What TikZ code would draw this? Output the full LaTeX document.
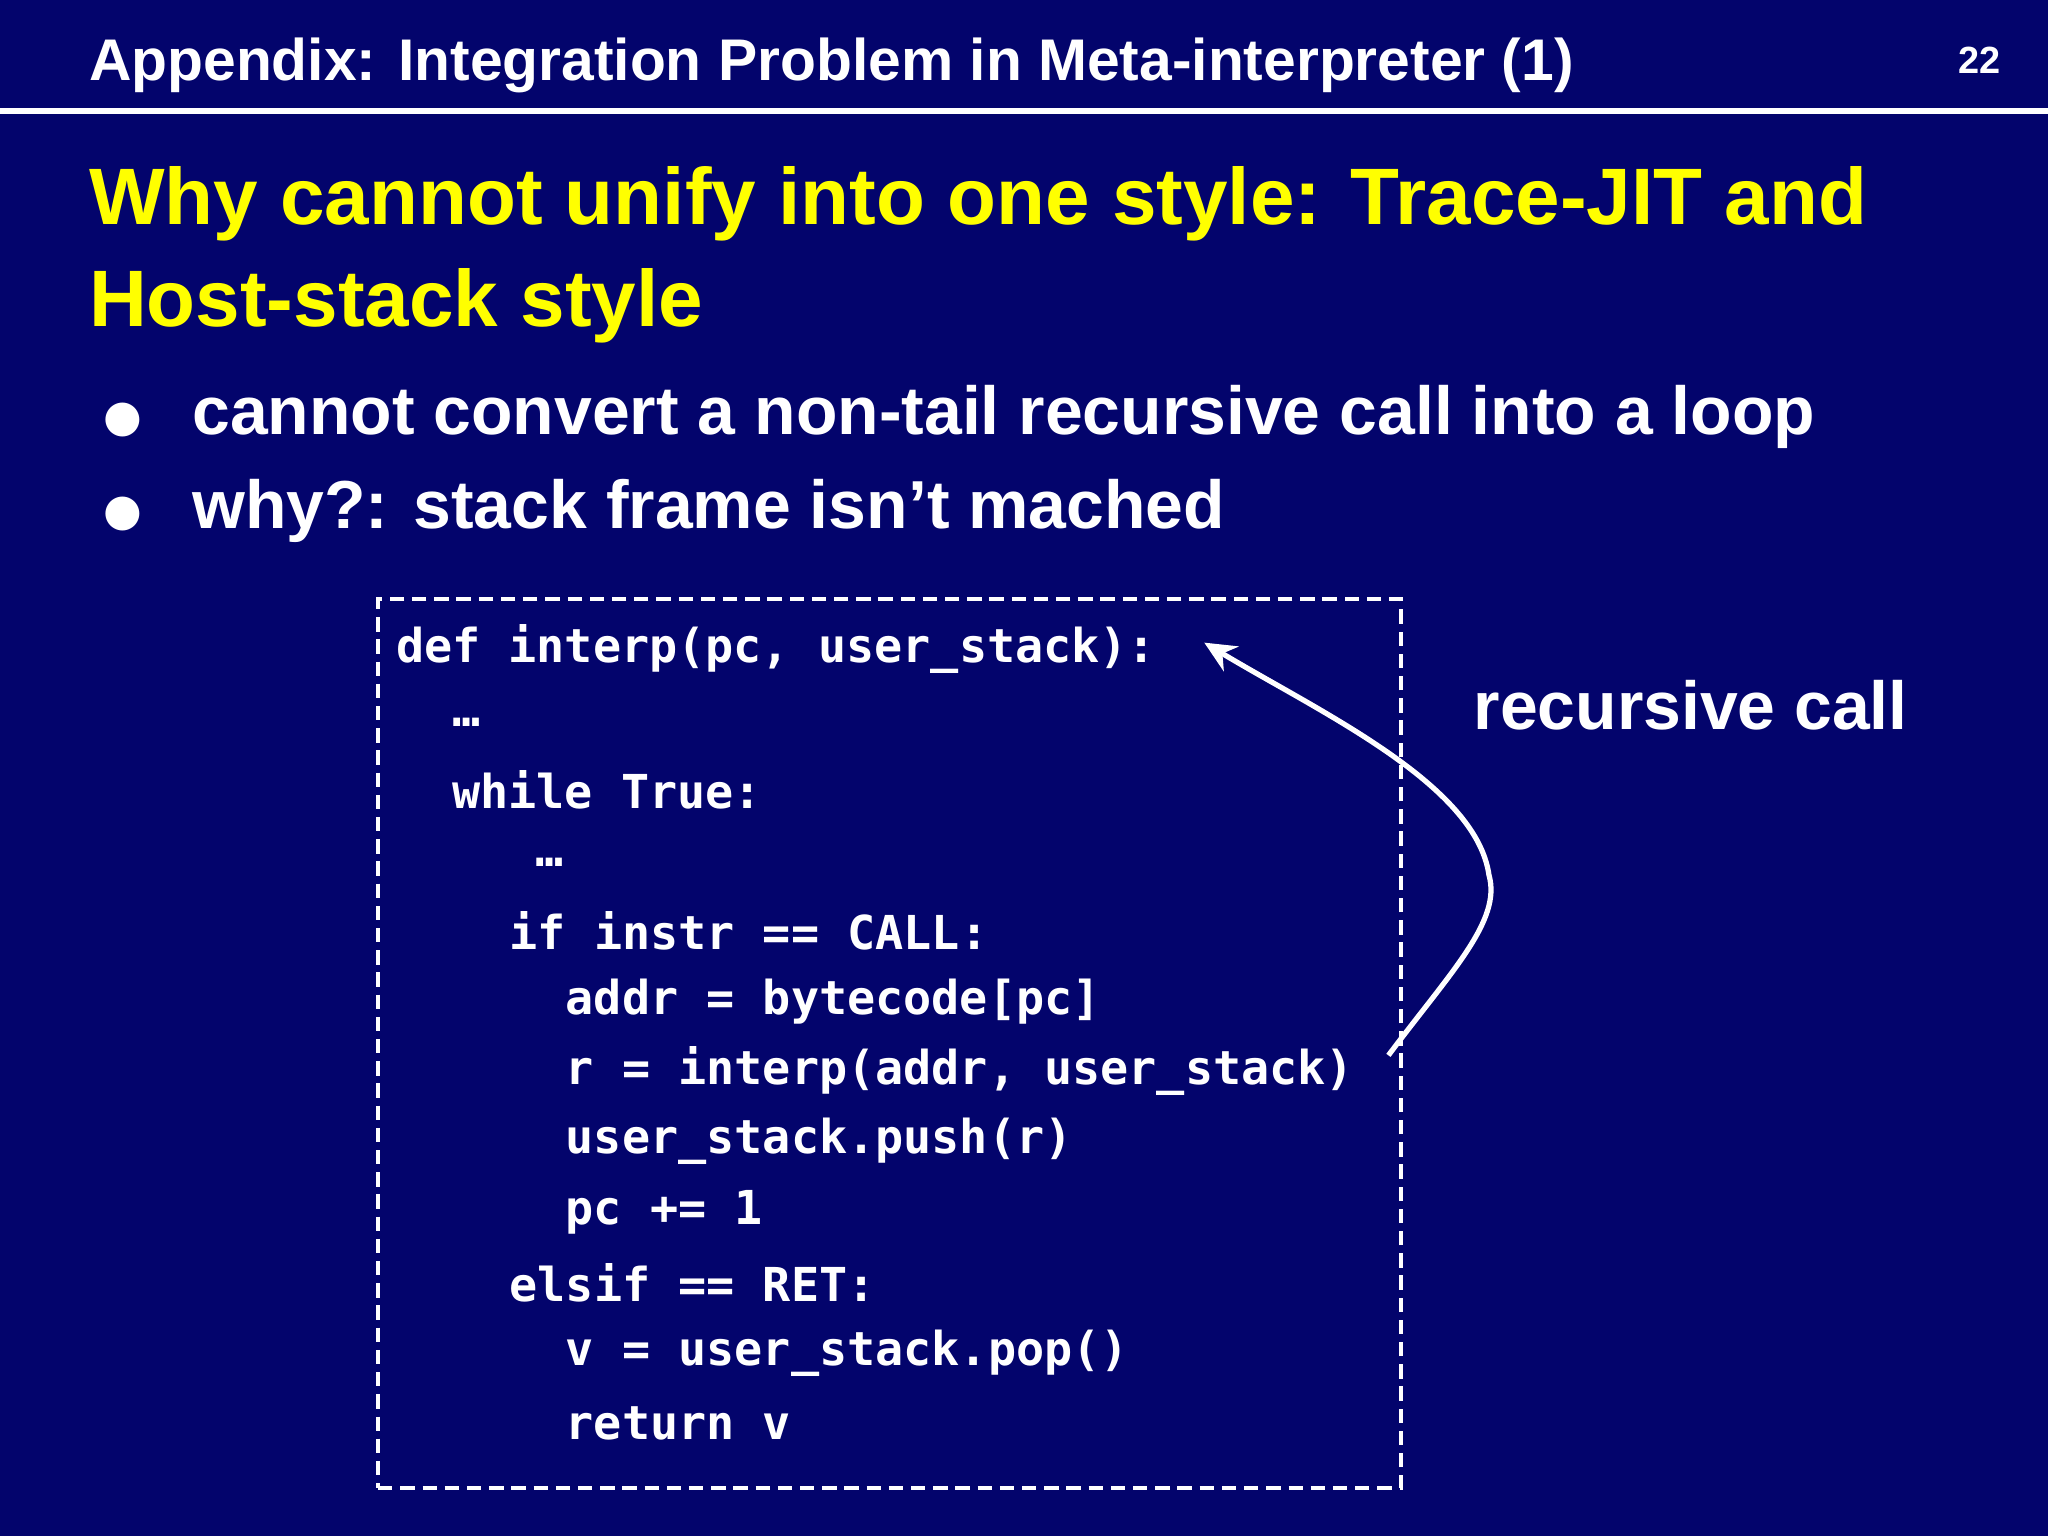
\documentclass[tikz,border=0pt]{standalone}
\usepackage{fontspec}
\usetikzlibrary{arrows.meta}
\setmainfont{Liberation Sans}
\setmonofont{DejaVu Sans Mono}
\definecolor{bg}{RGB}{3,4,108}
\definecolor{ttl}{RGB}{255,255,0}
\begin{document}
\begin{tikzpicture}[x=1pt,y=-1pt,
  code/.style={anchor=west,inner sep=0pt,text=white,font=\fontsize{35.8}{35.8}\selectfont\ttfamily\bfseries},
  bul/.style={anchor=base west,inner sep=0pt,text=white,font=\fontsize{52}{52}\selectfont\bfseries},
  dot/.style={anchor=base west,inner sep=0pt,text=white,font=\fontsize{34}{34}\selectfont\fontspec{DejaVu Sans}}]
\useasboundingbox[fill=bg] (0,0) rectangle (1568,1176);
\node[anchor=base west,inner sep=0pt,text=white,font=\fontsize{45}{45}\selectfont\bfseries] (hdr) at (68,62) {Appendix: Integration Problem in Meta-interpreter (1)};
\node[anchor=base east,inner sep=0pt,text=white,font=\fontsize{29}{29}\selectfont\bfseries] (num) at (1532,56) {22};
\draw[white,line width=4pt] (0,85) -- (1568,85);
\node[anchor=base west,inner sep=0pt,text=ttl,font=\fontsize{61.3}{61.3}\selectfont\bfseries] (h1) at (68,172) {Why cannot unify into one style: Trace-JIT and};
\node[anchor=base west,inner sep=0pt,text=ttl,font=\fontsize{61.3}{61.3}\selectfont\bfseries] (h2) at (68,250) {Host-stack style};
\node[dot] (b1d) at (79,330) {●};
\node[bul] (b1) at (147,333) {cannot convert a non-tail recursive call into a loop};
\node[dot] (b2d) at (79,402) {●};
\node[bul] (b2) at (147,405) {why?: stack frame isn\symbol{39}t mached};
\node[draw=white,line width=3pt,dash pattern=on 11pt off 6pt,minimum width=783pt,minimum height=681pt,anchor=north west,inner sep=0pt] (box) at (288,457) {};
\node[code] (c1) at (303,497) {def interp(pc, user\_stack):};
\node[code] (c2) at (346,553) {…};
\node[code] (c3) at (346,605) {while True:};
\node[code] (c4) at (410,660) {…};
\node[code] (c5) at (390,713) {if instr == CALL:};
\node[code] (c6) at (433,767) {addr = bytecode[pc]};
\node[code] (c7) at (433,820) {r = interp(addr, user\_stack)};
\node[code] (c8) at (433,874) {user\_stack.push(r)};
\node[code] (c9) at (433,928) {pc += 1};
\node[code] (c10) at (390,982) {elsif == RET:};
\node[code] (c11) at (433,1036) {v = user\_stack.pop()};
\node[code] (c12) at (433,1090) {return v};
\node[bul,anchor=west] (rc) at (1128,540) {recursive call};
\coordinate (s) at (1063,808);
\coordinate (m) at (1140,670);
\coordinate (e) at (922,492);
\draw[white,line width=4pt,-{Stealth[length=24pt,width=22pt]}] (s) .. controls (1110,745) and (1150,705) .. (m) .. controls (1130,600) and (1010,545) .. (e);
\end{tikzpicture}
\end{document}
